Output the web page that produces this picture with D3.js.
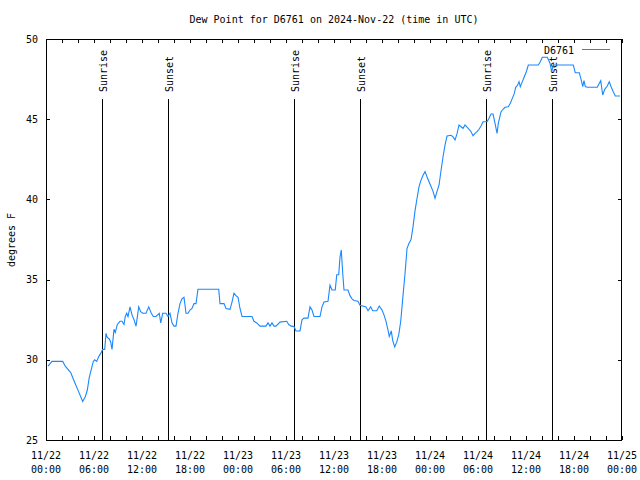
<!DOCTYPE html>
<html><head><meta charset="utf-8">
<script src="https://cdn.jsdelivr.net/npm/d3@7"></script>
<style>
html,body{margin:0;padding:0;background:#fff;}
svg text{font-family:"DejaVu Sans Mono","Liberation Mono",monospace;font-size:10px;fill:#000;}
</style></head>
<body><svg id="c" width="640" height="480"></svg>
<script>
const title = "Dew Point for D6761 on 2024-Nov-22 (time in UTC)";
const seriesName = "D6761";
const yLabel = "degrees F";
const startUTC = Date.UTC(2024, 10, 22, 0, 0);
// hours since 2024-11-22 00:00 UTC
const hours = [0.25,0.75,2.09,2.41,2.75,3.09,3.41,3.75,4.09,4.34,4.59,4.91,5.16,5.41,5.66,5.91,6.09,6.34,6.59,6.84,7.09,7.34,7.5,7.66,7.91,8.09,8.25,8.5,8.66,8.91,9.25,9.5,9.75,9.91,10.09,10.25,10.5,10.75,11.0,11.25,11.34,11.59,11.84,12.09,12.5,12.84,13.16,13.41,13.75,14.16,14.34,14.59,
15.0,15.25,15.5,15.75,16.0,16.25,16.5,16.75,17.0,17.25,17.5,17.75,18.0,18.25,18.5,18.75,19.0,21.59,21.75,22.25,22.5,23.0,23.25,23.5,23.75,24.0,24.25,24.5,25.75,26.0,26.34,26.75,27.5,27.75,28.0,28.25,28.5,28.75,29.25,30.09,
30.34,30.66,31.0,31.25,31.75,32.0,32.25,32.75,33.0,33.25,33.5,34.25,34.5,34.75,35.25,35.5,35.75,36.16,36.34,36.59,36.75,36.91,37.09,37.25,37.75,38.0,38.25,38.5,39.0,39.25,40.0,40.25,40.59,40.84,41.34,41.66,42.0,42.25,42.5,42.75,42.91,43.16,43.34,43.59,43.84,44.09,44.34,44.59,
44.88,45.13,45.38,45.63,45.88,46.13,46.38,46.63,46.88,47.13,47.38,47.63,47.88,48.13,48.38,48.63,48.88,49.13,49.38,49.63,49.88,50.13,50.63,50.88,51.13,51.38,51.63,51.88,52.13,52.38,52.63,52.88,53.13,53.38,53.63,53.88,54.13,54.38,54.63,55.13,55.38,55.63,55.88,56.13,56.38,56.54,
56.88,57.13,57.38,57.79,58.04,58.29,58.54,58.71,58.96,59.13,59.29,59.54,59.79,60.04,60.29,61.54,61.79,62.04,62.66,63.0,63.21,63.41,65.91,66.16,66.66,66.91,67.09,67.25,67.41,67.66,68.91,69.16,69.34,69.59,69.84,70.16,70.41,70.66,70.91,71.16,71.75];
const dewF = [29.6,29.9,29.9,29.6,29.4,29.2,28.8,28.4,28.0,27.7,27.4,27.7,28.1,28.9,29.4,29.9,30.0,29.9,30.2,30.4,30.65,30.65,31.65,31.4,31.3,31.1,30.65,31.9,31.7,32.2,32.4,32.4,32.2,32.7,32.9,32.7,33.3,32.8,32.5,32.1,32.4,33.3,33.0,32.9,32.9,33.3,32.9,32.7,32.7,32.9,32.3,32.9,
32.9,32.7,32.9,32.3,32.1,32.1,32.9,33.5,33.8,33.9,32.9,32.9,33.1,33.2,33.5,33.5,34.4,34.4,33.5,33.5,33.2,33.15,33.6,34.15,34.0,33.9,33.2,32.7,32.7,32.4,32.3,32.1,32.1,32.3,32.1,32.3,32.1,32.1,32.35,32.4,
32.2,32.1,32.07,31.8,31.8,32.5,32.6,32.6,33.3,33.1,32.7,32.7,33.3,33.6,33.65,34.65,34.35,34.35,35.3,35.3,36.4,36.85,35.4,34.35,34.35,34.0,33.8,33.7,33.65,33.4,33.3,33.06,33.3,33.06,33.06,33.35,33.1,32.8,32.4,31.85,31.45,31.8,31.2,30.8,31.1,31.55,32.4,33.8,
35.4,36.95,37.26,37.5,38.3,39.3,40.07,40.8,41.2,41.5,41.73,41.4,41.1,40.8,40.5,40.07,40.5,40.9,41.8,42.66,43.4,43.95,44.0,43.9,43.7,44.1,44.64,44.53,44.43,44.64,44.5,44.37,44.22,43.97,44.12,44.22,44.37,44.58,44.84,44.84,45.06,45.32,45.32,44.74,44.12,44.74,
45.47,45.62,45.74,45.78,45.99,46.3,46.61,46.99,47.13,47.34,47.03,47.34,47.65,47.96,48.38,48.38,48.58,48.86,48.86,48.49,47.96,48.38,48.38,47.9,47.9,47.44,47.03,47.4,47.03,46.99,46.99,47.24,47.4,46.51,46.86,47.07,47.34,46.99,46.71,46.45,46.45];
const eventHours = [7.03, 15.3, 31.03, 39.3, 55.03, 63.3];
const eventLabels = ["Sunrise","Sunset","Sunrise","Sunset","Sunrise","Sunset"];
const yTicks = [25,30,35,40,45,50];
const xLabelHours = [0,6,12,18,24,30,36,42,48,54,60,66,72];

const H = 3600e3;
const toDate = h => new Date(startUTC + h * H);
const data = hours.map((h,i) => ({t: toDate(h), v: dewF[i]}));

const L = 46, R = 622, T = 39, B = 440;
const x = d3.scaleUtc().domain([toDate(0), toDate(72)]).range([L, R]);
const y = d3.scaleLinear().domain([25, 50]).range([B, T]);
const svg = d3.select("#c");

const minorTicks = d3.range(0, 73, 2).map(toDate);
const g = svg.append("g").attr("shape-rendering","crispEdges");
function tickAxis(axis, tr){
  const a = g.append("g").attr("transform", tr).call(axis);
  a.select(".domain").remove();
  a.selectAll("text").remove();
  a.selectAll("line").attr("stroke","#000");
  return a;
}
tickAxis(d3.axisBottom(x).tickValues(minorTicks).tickSize(-4).tickFormat(""), `translate(0,${B})`);
tickAxis(d3.axisTop(x).tickValues(minorTicks).tickSize(-4).tickFormat(""), `translate(0,${T})`);
tickAxis(d3.axisLeft(y).tickValues(yTicks).tickSize(-4).tickFormat(""), `translate(${L},0)`);
tickAxis(d3.axisRight(y).tickValues(yTicks).tickSize(-4).tickFormat(""), `translate(${R},0)`);

// sunrise / sunset lines
eventHours.forEach((h,i) => {
  const px = Math.round(x(toDate(h))) + 0.5;
  g.append("line").attr("x1",px).attr("x2",px).attr("y1",99).attr("y2",B).attr("stroke","#000");
  svg.append("text").attr("transform",`translate(${px+0.5},92) rotate(-90)`)
    .attr("dy","0.35em").attr("text-anchor","start").text(eventLabels[i]);
});

// frame
g.append("rect").attr("x",L+0.5).attr("y",T+0.5).attr("width",R-L-1).attr("height",B-T)
  .attr("fill","none").attr("stroke","#000");

// y labels
yTicks.forEach(v => {
  svg.append("text").attr("x",38).attr("y",y(v)).attr("dy","0.35em").attr("text-anchor","end").text(v);
});
// x labels
const pad = n => String(n).padStart(2,"0");
xLabelHours.forEach(h => {
  const d = toDate(h);
  const t = svg.append("text").attr("text-anchor","middle");
  t.append("tspan").attr("x",x(d)).attr("y",459).text(`${d.getUTCMonth()+1}/${d.getUTCDate()}`);
  t.append("tspan").attr("x",x(d)).attr("y",473).text(`${pad(d.getUTCHours())}:${pad(d.getUTCMinutes())}`);
});

// title & axis label
svg.append("text").attr("x",(L+R)/2).attr("y",23).attr("text-anchor","middle").text(title);
svg.append("text").attr("transform","translate(11,240) rotate(-90)").attr("dy","0.35em").attr("text-anchor","middle").text(yLabel);

// data line
const color = "#1a88ff";
svg.append("path").datum(data).attr("fill","none").attr("stroke",color).attr("stroke-width",1.1)
  .attr("d", d3.line().x(d => x(d.t)).y(d => y(d.v)));

// legend
svg.append("text").attr("x",574).attr("y",50).attr("dy","0.35em").attr("text-anchor","end").text(seriesName);
g.append("line").attr("x1",582).attr("x2",610).attr("y1",49.5).attr("y2",49.5).attr("stroke",color);
</script></body></html>
